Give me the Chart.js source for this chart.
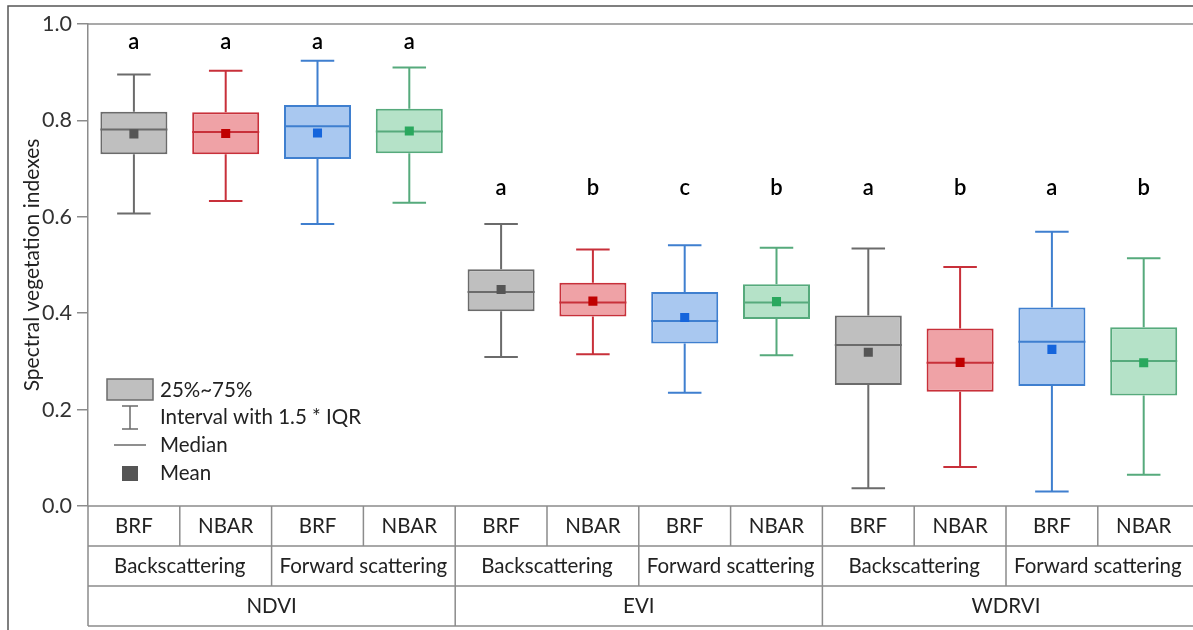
<!DOCTYPE html>
<html>
<head>
<meta charset="utf-8">
<script src="https://cdn.jsdelivr.net/npm/chart.js@4/dist/chart.umd.min.js"></script>
<style>
  html, body { margin: 0; padding: 0; background: #ffffff; overflow: hidden; }
  canvas { display: block; }
</style>
</head>
<body>
<canvas id="c" width="1196" height="630"></canvas>
<script>
// Box categories (left to right)
const categories = ['BRF', 'NBAR', 'BRF', 'NBAR', 'BRF', 'NBAR', 'BRF', 'NBAR', 'BRF', 'NBAR', 'BRF', 'NBAR'];
const geometries = ['Backscattering', 'Forward scattering', 'Backscattering', 'Forward scattering', 'Backscattering', 'Forward scattering'];
const indices = ['NDVI', 'EVI', 'WDRVI'];

// Box statistics per category
const whiskerHigh = [0.895, 0.903, 0.924, 0.910, 0.585, 0.532, 0.541, 0.536, 0.534, 0.496, 0.569, 0.514];
const q3          = [0.818, 0.817, 0.832, 0.824, 0.491, 0.463, 0.444, 0.460, 0.395, 0.368, 0.412, 0.371];
const medians     = [0.781, 0.776, 0.788, 0.777, 0.444, 0.422, 0.384, 0.422, 0.334, 0.297, 0.341, 0.301];
const q1          = [0.730, 0.730, 0.720, 0.732, 0.404, 0.393, 0.337, 0.388, 0.251, 0.237, 0.249, 0.229];
const whiskerLow  = [0.607, 0.633, 0.585, 0.629, 0.309, 0.315, 0.235, 0.313, 0.037, 0.081, 0.030, 0.065];
const means       = [0.772, 0.773, 0.774, 0.778, 0.449, 0.425, 0.391, 0.424, 0.319, 0.298, 0.325, 0.297];

// Significance letters
const letters = ['a', 'a', 'a', 'a', 'a', 'b', 'c', 'b', 'a', 'b', 'a', 'b'];

// Y-axis ticks
const yTicks = [0.0, 0.2, 0.4, 0.6, 0.8, 1.0];

// Styling
const FONT = 'Lato, "Open Sans", sans-serif';
const fillColors   = ['#bfbfbf', '#efa2a6', '#a9c8f0', '#b5e2c8'];
const strokeColors = ['#6b6b6b', '#c8303a', '#3f7fcf', '#56aa7c'];
const meanColors   = ['#555555', '#c00000', '#1565dc', '#2aa85e'];
const letterLevel  = [0.962, 0.660, 0.660];
const LINE = '#8c8c8c';

const colorOf = (arr) => categories.map((_, i) => arr[i % 4]);

const boxParts = {
  id: 'boxParts',
  beforeDraw(chart) {
    const ctx = chart.ctx;
    ctx.save();
    ctx.fillStyle = '#ffffff';
    ctx.fillRect(0, 0, chart.width, chart.height);
    // outer frame
    ctx.strokeStyle = '#555555';
    ctx.lineWidth = 1.5;
    ctx.beginPath();
    ctx.moveTo(8, chart.height + 2);
    ctx.lineTo(8, 6);
    ctx.lineTo(chart.width + 2, 6);
    ctx.stroke();
    ctx.restore();
  },
  afterDatasetDraw(chart, args) {
    if (args.index !== 1) return;
    const ctx = chart.ctx;
    const y = chart.scales.y;
    const meta = chart.getDatasetMeta(1);
    ctx.save();
    meta.data.forEach((bar, i) => {
      const c = strokeColors[i % 4];
      const half = bar.width / 2;
      const cap = bar.width / 4;
      ctx.strokeStyle = c;
      ctx.lineWidth = 2;
      const yHi = y.getPixelForValue(whiskerHigh[i]);
      const yQ3 = y.getPixelForValue(q3[i]);
      const yQ1 = y.getPixelForValue(q1[i]);
      const yLo = y.getPixelForValue(whiskerLow[i]);
      const yMed = y.getPixelForValue(medians[i]);
      ctx.beginPath();
      ctx.moveTo(bar.x, yQ3); ctx.lineTo(bar.x, yHi);
      ctx.moveTo(bar.x - cap, yHi); ctx.lineTo(bar.x + cap, yHi);
      ctx.moveTo(bar.x, yQ1); ctx.lineTo(bar.x, yLo);
      ctx.moveTo(bar.x - cap, yLo); ctx.lineTo(bar.x + cap, yLo);
      ctx.moveTo(bar.x - half, yMed); ctx.lineTo(bar.x + half, yMed);
      ctx.stroke();
    });
    ctx.restore();
  },
  afterDraw(chart) {
    const ctx = chart.ctx;
    const area = chart.chartArea;
    const x = chart.scales.x;
    const y = chart.scales.y;
    const step = (area.right - area.left) / categories.length;
    ctx.save();

    // top boundary line
    ctx.strokeStyle = LINE;
    ctx.lineWidth = 1.5;
    ctx.beginPath();
    ctx.moveTo(area.left, area.top);
    ctx.lineTo(chart.width + 2, area.top);
    ctx.stroke();

    // significance letters
    ctx.fillStyle = '#000000';
    ctx.font = '600 22px ' + FONT;
    ctx.textAlign = 'center';
    ctx.textBaseline = 'middle';
    letters.forEach((t, i) => {
      ctx.fillText(t, x.getPixelForValue(i), y.getPixelForValue(letterLevel[Math.floor(i / 4)]));
    });

    // category table below the axis
    const rowH = 40;
    const r0 = area.bottom, r1 = r0 + rowH, r2 = r1 + rowH, r3 = r2 + rowH;
    ctx.strokeStyle = LINE;
    ctx.lineWidth = 1.5;
    ctx.beginPath();
    [r1, r2, r3].forEach(ry => { ctx.moveTo(area.left, ry); ctx.lineTo(chart.width + 2, ry); });
    ctx.moveTo(area.left, r0); ctx.lineTo(chart.width + 2, r0);
    ctx.moveTo(area.left, r0); ctx.lineTo(area.left, r3);
    for (let k = 1; k < categories.length; k++) {
      const bx = area.left + k * step;
      const bottom = k % 4 === 0 ? r3 : (k % 2 === 0 ? r2 : r1);
      ctx.moveTo(bx, r0); ctx.lineTo(bx, bottom);
    }
    ctx.stroke();

    ctx.fillStyle = '#222222';
    ctx.font = '20.5px ' + FONT;
    categories.forEach((t, i) => ctx.fillText(t, area.left + (i + 0.5) * step, (r0 + r1) / 2));
    geometries.forEach((t, i) => ctx.fillText(t, area.left + (i * 2 + 1) * step, (r1 + r2) / 2));
    indices.forEach((t, i) => ctx.fillText(t, area.left + (i * 4 + 2) * step, (r2 + r3) / 2));

    // y-axis title
    ctx.save();
    ctx.translate(32, (area.top + area.bottom) / 2);
    ctx.rotate(-Math.PI / 2);
    ctx.font = '21px ' + FONT;
    ctx.fillStyle = '#222222';
    ctx.fillText('Spectral vegetation indexes', 0, 0);
    ctx.restore();

    // legend
    const lx = area.left;
    ctx.fillStyle = '#bfbfbf';
    ctx.fillRect(lx + 19, 379, 46, 21);
    ctx.strokeStyle = '#6b6b6b';
    ctx.lineWidth = 1.5;
    ctx.strokeRect(lx + 19, 379, 46, 21);
    ctx.beginPath();
    ctx.moveTo(lx + 42, 406); ctx.lineTo(lx + 42, 429);
    ctx.moveTo(lx + 34, 406); ctx.lineTo(lx + 50, 406);
    ctx.moveTo(lx + 34, 429); ctx.lineTo(lx + 50, 429);
    ctx.moveTo(lx + 26, 445); ctx.lineTo(lx + 58, 445);
    ctx.stroke();
    ctx.fillStyle = '#555555';
    ctx.fillRect(lx + 34, 466, 16, 15);
    ctx.fillStyle = '#222222';
    ctx.font = '20.5px ' + FONT;
    ctx.textAlign = 'left';
    ctx.fillText('25%~75%', lx + 72, 390);
    ctx.fillText('Interval with 1.5 * IQR', lx + 72, 417);
    ctx.fillText('Median', lx + 72, 445);
    ctx.fillText('Mean', lx + 72, 473);
    ctx.restore();
  }
};

new Chart(document.getElementById('c'), {
  data: {
    labels: categories,
    datasets: [
      {
        type: 'line',
        label: 'Mean',
        data: means,
        showLine: false,
        pointStyle: 'rect',
        pointRadius: 6.4,
        pointBorderWidth: 0,
        pointBackgroundColor: colorOf(meanColors),
        order: 1
      },
      {
        type: 'bar',
        label: '25%~75%',
        data: q1.map((v, i) => [v, q3[i]]),
        backgroundColor: colorOf(fillColors),
        borderColor: colorOf(strokeColors),
        borderWidth: 2,
        borderSkipped: false,
        barPercentage: 0.73,
        categoryPercentage: 1,
        order: 2
      }
    ]
  },
  options: {
    responsive: false,
    animation: false,
    events: [],
    layout: { padding: { left: 8, top: 24, right: 1, bottom: 124 } },
    plugins: { legend: { display: false }, tooltip: { enabled: false } },
    scales: {
      x: { type: 'category', display: false, offset: true },
      y: {
        min: 0, max: 1,
        afterFit(scale) { scale.width = 80; },
        afterBuildTicks(scale) { scale.ticks = yTicks.map(v => ({ value: v })); },
        ticks: {
          font: { family: FONT, size: 21.5 },
          color: '#333333',
          padding: 5,
          callback: (v) => Number(v).toFixed(1)
        },
        grid: { drawOnChartArea: false, drawTicks: true, tickLength: 11, color: LINE, lineWidth: 1.5 },
        border: { display: true, color: LINE, width: 1.5 }
      }
    }
  },
  plugins: [boxParts]
});
</script>
</body>
</html>
